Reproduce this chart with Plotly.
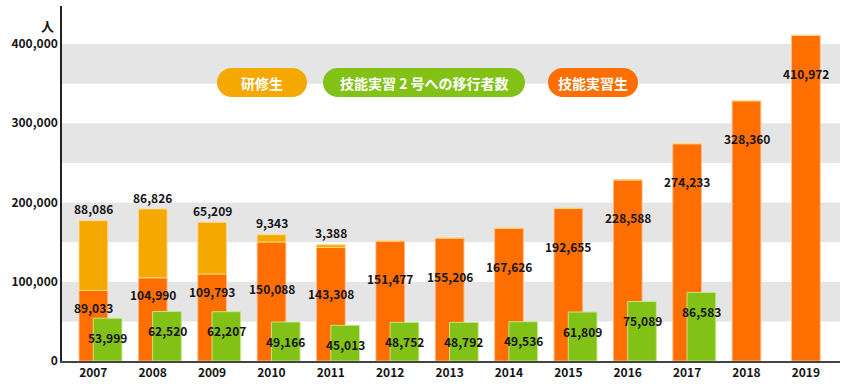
import math
import plotly.graph_objects as go

# ---------------- data ----------------
years = [2007, 2008, 2009, 2010, 2011, 2012, 2013, 2014, 2015, 2016, 2017, 2018, 2019]
trainees = [88086, 86826, 65209, 9343, 3388, None, None, None, None, None, None, None, None]          # 研修生
interns = [89033, 104990, 109793, 150088, 143308, 151477, 155206, 167626, 192655, 228588, 274233, 328360, 410972]  # 技能実習生
transfers = [53999, 62520, 62207, 49166, 45013, 48752, 48792, 49536, 61809, 75089, 86583, None, None]  # 技能実習2号への移行者数
y_ticks = [0, 100000, 200000, 300000, 400000]
legend_names = ["研修生", "技能実習 2 号への移行者数", "技能実習生"]

# ---------------- styles ----------------
ORANGE = "#FF6E00"
YELLOW = "#F5A800"
GREEN = "#82C115"
BAND = "#E5E5E5"
TXT = "#151515"
FONT = "Noto Sans CJK JP"

W, H = 850, 390
ML, MR, MT, MB = 62, 10, 6, 29
PW, PH = W - ML - MR, H - MT - MB
YMAX = 448000
BW = 0.483

fig = go.Figure()
line_o = dict(color="rgba(255,190,140,0.9)", width=1)
fig.add_bar(x=years, y=interns, width=BW, offset=-0.24, name=legend_names[2],
            marker=dict(color=ORANGE, line=line_o), hoverinfo="skip")
fig.add_bar(x=years, y=[t if t else 0 for t in trainees], base=interns, width=BW, offset=-0.24,
            name=legend_names[0], marker=dict(color=YELLOW, line=dict(color="rgba(255,220,140,0.9)", width=1)),
            hoverinfo="skip")
fig.add_bar(x=years, y=transfers, width=BW, offset=0.0, name=legend_names[1],
            marker=dict(color=GREEN, line=dict(color="rgba(200,235,150,0.9)", width=1)), hoverinfo="skip")

lab_font = dict(family=FONT, size=12, color=TXT, weight="bold")
annotations = []
for yr, t, o, g in zip(years, trainees, interns, transfers):
    cx = yr - 0.24 + BW / 2
    if t:
        annotations.append(dict(x=cx, y=o + t, text=f"{t:,}", showarrow=False, yshift=12,
                                font=lab_font, xref="x", yref="y"))
        shift = -17 if t >= 20000 else -46
    else:
        shift = -38
    annotations.append(dict(x=cx, y=o, text=f"{o:,}", showarrow=False, yshift=shift,
                            font=lab_font, xref="x", yref="y"))
    if g:
        annotations.append(dict(x=yr + BW / 2, y=g, text=f"{g:,}", showarrow=False, yshift=-19,
                                font=lab_font, xref="x", yref="y"))

# y unit label
annotations.append(dict(x=0, y=1, xref="paper", yref="paper", xanchor="right", yanchor="top",
                        xshift=-6, yshift=-8, text="人", showarrow=False,
                        font=dict(family=FONT, size=13, color=TXT, weight="bold")))

shapes = []
# gray horizontal bands
for lo in range(50000, 400001, 100000):
    shapes.append(dict(type="rect", xref="paper", yref="y", x0=0, x1=1, y0=lo, y1=lo + 50000,
                       fillcolor=BAND, line=dict(width=0), layer="below"))


def px2paper(px, py):
    return (px - ML) / PW, (H - MB - py) / PH


def pill(x0, x1, y0, y1, color):
    r = (y1 - y0) / 2
    cy = (y0 + y1) / 2
    pts = []
    n = 18
    for i in range(n + 1):
        a = -math.pi / 2 + math.pi * i / n
        pts.append((x1 - r + r * math.cos(a), cy + r * math.sin(a)))
    for i in range(n + 1):
        a = math.pi / 2 + math.pi * i / n
        pts.append((x0 + r + r * math.cos(a), cy + r * math.sin(a)))
    conv = [px2paper(a, b) for a, b in pts]
    path = "M " + " L ".join(f"{a:.5f},{b:.5f}" for a, b in conv) + " Z"
    return dict(type="path", xref="paper", yref="paper", path=path, fillcolor=color,
                line=dict(width=0), layer="above")


pills = [(217, 307, YELLOW, legend_names[0]), (323, 525, GREEN, legend_names[1]), (548, 638, ORANGE, legend_names[2])]
for x0, x1, col, name in pills:
    shapes.append(pill(x0, x1, 68, 97, col))
    cx, cy = px2paper((x0 + x1) / 2, 82.5)
    annotations.append(dict(x=cx, y=cy, xref="paper", yref="paper", text=name, showarrow=False,
                            font=dict(family=FONT, size=14, color="white", weight="bold"),
                            xanchor="center", yanchor="middle"))

fig.update_layout(
    width=W, height=H, margin=dict(l=ML, r=MR, t=MT, b=MB, autoexpand=False),
    barmode="overlay", showlegend=False,
    plot_bgcolor="white", paper_bgcolor="white",
    font=dict(family=FONT, size=12, color=TXT),
    shapes=shapes, annotations=annotations,
    xaxis=dict(range=[2006.473, 2019.576], tickvals=years, ticktext=[str(y) for y in years],
               showgrid=False, zeroline=False, showline=True, linecolor="#444", linewidth=1.5,
               ticks="", automargin=False, tickfont=dict(family=FONT, size=12, color=TXT, weight="bold")),
    yaxis=dict(range=[0, YMAX], tickvals=y_ticks, ticktext=[f"{v:,}" for v in y_ticks],
               showgrid=False, zeroline=False, showline=True, linecolor="#222", linewidth=1.5,
               ticks="", automargin=False, tickfont=dict(family=FONT, size=12, color=TXT, weight="bold")),
)

fig.write_html("out.html",
               config={"displayModeBar": False},
               post_script="document.body.style.margin='0';document.body.style.padding='0';"
                           "document.body.style.overflow='hidden';")
